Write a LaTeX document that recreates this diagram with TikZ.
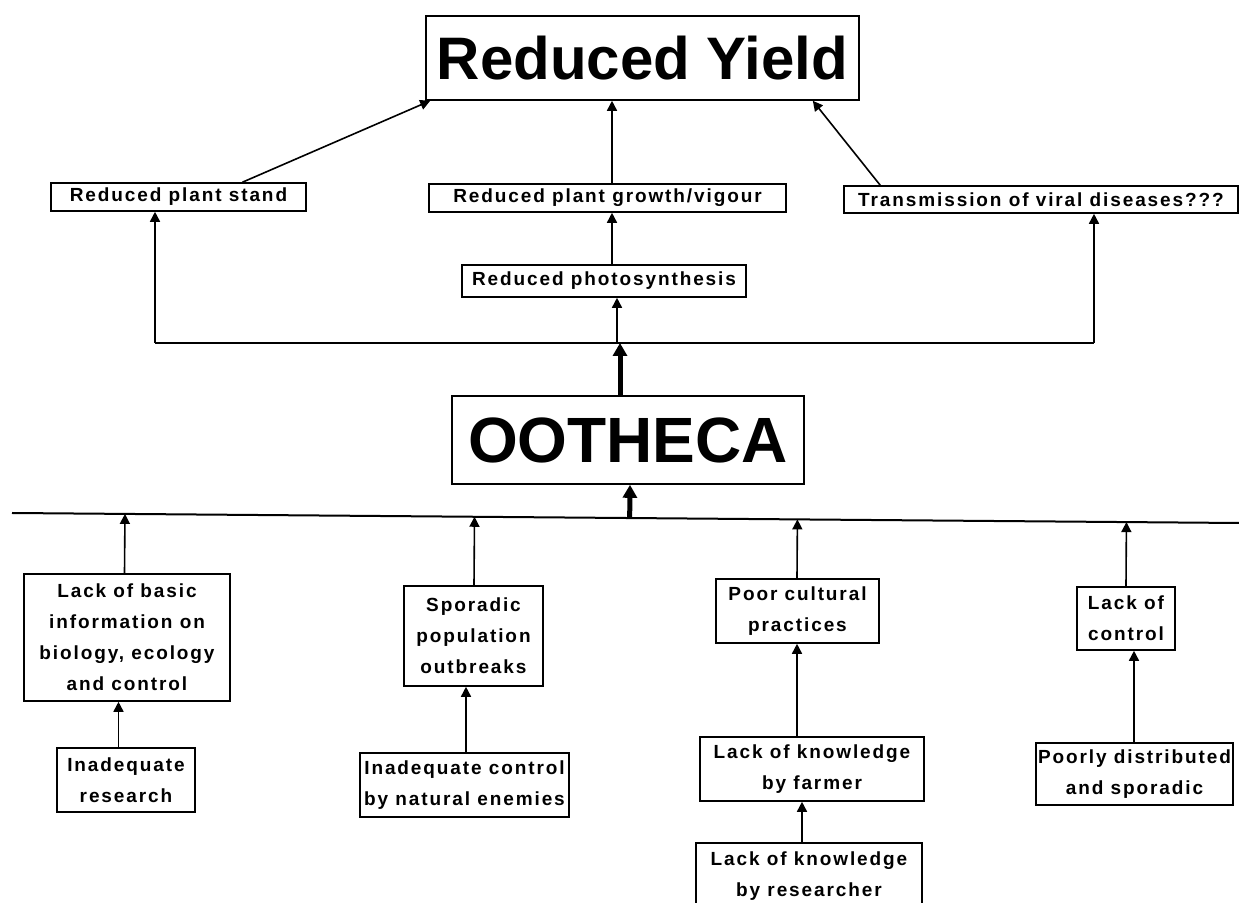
\documentclass[tikz,border=0pt]{standalone}
\usepackage{fontspec}
\setmainfont{Liberation Sans}
\newfontfamily\lblfont[LetterSpace=10]{Liberation Sans}
\usetikzlibrary{arrows.meta,calc}

\begin{document}
\begin{tikzpicture}[x=0.5pt,y=-0.5pt,
  box/.style={draw,line width=0.8pt,inner sep=0pt,align=center,
    font=\lblfont\bfseries\fontsize{9.5}{15.5}\selectfont},
  bigbox/.style={draw,line width=0.8pt,inner sep=0pt,
    font=\bfseries\fontsize{30}{36}\selectfont},
  arr/.style={line width=0.8pt,-{Triangle[length=5pt,width=5pt]}},
  fatarr/.style={line width=2.5pt,-{Triangle[length=6.5pt,width=7pt]}},
  rule/.style={line width=1pt}]
\useasboundingbox (0,0) rectangle (1239,903);

% effects
\node[bigbox,minimum width=216.5pt,minimum height=42pt] (RY) at (642.5,58) {Reduced Yield};
\node[box,minimum width=127.5pt,minimum height=14pt] (PS) at (178.5,197) {Reduced plant stand};
\node[box,minimum width=178.5pt,minimum height=14pt] (PG) at (607.5,198) {Reduced plant growth/vigour};
\node[box,minimum width=197pt,minimum height=13.5pt] (TV) at (1041,199.5) {Transmission of viral diseases???};
\node[box,minimum width=142pt,minimum height=16pt] (PH) at (604,281) {Reduced photosynthesis};

% pest
\node[bigbox,minimum width=176pt,minimum height=44pt,font=\bfseries\fontsize{32}{38}\selectfont] (OO) at (628,440) {OOTHECA};

% causes
\node[box,minimum width=103pt,minimum height=63.5pt] (LB) at (127,637.5) {Lack of basic\\information on\\biology, ecology\\and control};
\node[box,minimum width=69pt,minimum height=32pt] (IR) at (126,780) {Inadequate\\research};
\node[box,minimum width=69.5pt,minimum height=50pt] (SP) at (473.5,636) {Sporadic\\population\\outbreaks};
\node[box,minimum width=104.5pt,minimum height=32pt] (IC) at (464.5,785) {Inadequate control\\by natural enemies};
\node[box,minimum width=81.5pt,minimum height=32pt] (PC) at (797.5,611) {Poor cultural\\practices};
\node[box,minimum width=112pt,minimum height=32pt] (FA) at (812,769) {Lack of knowledge\\by farmer};
\node[box,minimum width=113pt,minimum height=33pt] (RE) at (809,876) {Lack of knowledge\\by researcher};
\node[box,minimum width=49pt,minimum height=31.5pt] (LC) at (1126,618.5) {Lack of\\control};
\node[box,minimum width=98.5pt,minimum height=31pt] (PD) at (1134.5,774) {Poorly distributed\\and sporadic};

% upper tier connectors
\draw[arr] ($(PS.north)+(64,0)$) -- ($(RY.south west)+(5,0)$);
\coordinate (xg) at (612,0);
\draw[arr] (xg |- PG.north) -- (xg |- RY.south);
\draw[arr] (xg |- PH.north) -- (xg |- PG.south);
\draw[arr] ($(TV.north west)+(37,0)$) -- ($(RY.south east)+(-47,0)$);

% distribution bar above the pest
\coordinate (HL) at (155,343);
\coordinate (HR) at (1094,343);
\coordinate (HM) at (617,343);
\coordinate (HO) at (620,343);
\draw[rule] (HL) -- (HR);
\draw[arr] (HL) -- (HL |- PS.south);
\draw[arr] (HR) -- (HR |- TV.south);
\draw[arr] (HM) -- (HM |- PH.south);
\draw[fatarr] (HO |- OO.north) -- (HO);

% collecting bar below the pest
\coordinate (BL) at (12,513);
\coordinate (BR) at (1239,523);
\draw[rule] (BL) -- (BR);
\coordinate (xo) at (630,0);
\coordinate (ob) at (xo |- OO.south);
\draw[fatarr] ($(BL)!(ob)!(BR)$) -- (ob);

% causes feeding the bar
\coordinate (x1) at (124.5,0);
\coordinate (x2) at (474,0);
\coordinate (x3) at (797,0);
\coordinate (x4) at (1126,0);
\coordinate (t1) at (x1 |- LB.north);
\coordinate (t2) at (x2 |- SP.north);
\coordinate (t3) at (x3 |- PC.north);
\coordinate (t4) at (x4 |- LC.north);
\foreach \t in {t1,t2,t3,t4}
  \draw[arr] (\t) -- ($(BL)!(\t)!(BR)$);

% root causes
\coordinate (y1) at (118.5,0);
\coordinate (y2) at (466,0);
\coordinate (y3) at (797,0);
\coordinate (y4) at (802,0);
\coordinate (y5) at (1134,0);
\draw[arr] (y1 |- IR.north) -- (y1 |- LB.south);
\draw[arr] (y2 |- IC.north) -- (y2 |- SP.south);
\draw[arr] (y3 |- FA.north) -- (y3 |- PC.south);
\draw[arr] (y4 |- RE.north) -- (y4 |- FA.south);
\draw[arr] (y5 |- PD.north) -- (y5 |- LC.south);
\end{tikzpicture}
\end{document}
